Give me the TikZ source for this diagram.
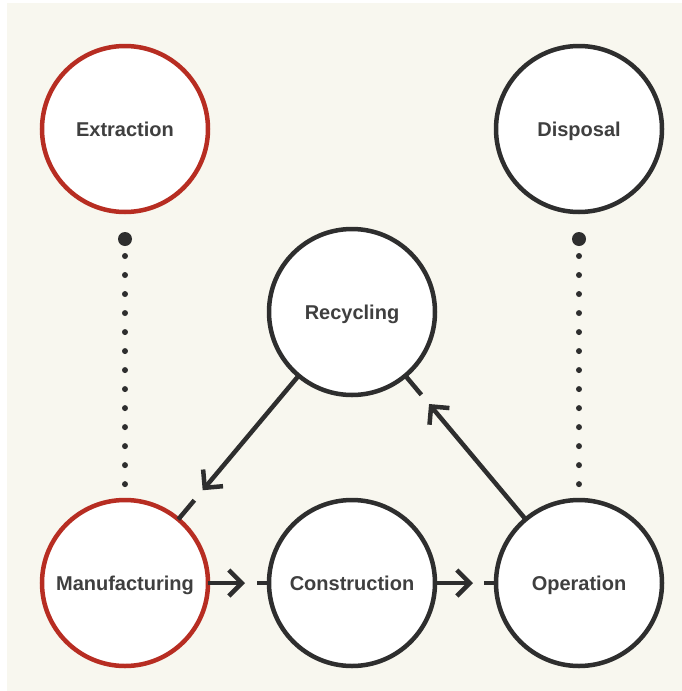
\documentclass[tikz,border=0pt]{standalone}
\usepackage{fontspec}
\setmainfont{Liberation Sans}
\usepackage{xcolor}
\usetikzlibrary{positioning,arrows.meta,calc}
\definecolor{cream}{HTML}{F8F7EF}
\definecolor{ink}{HTML}{2E2E2E}
\definecolor{rust}{HTML}{B72D22}

\begin{document}
\begin{tikzpicture}[x=1pt, y=1pt, font=\fontsize{20}{24}\selectfont\bfseries,
  stage/.style={circle, draw=ink, line width=4.5pt, fill=white, minimum size=166pt, inner sep=0pt, outer sep=0pt, text=ink!92, text height=14pt, text depth=0pt},
  start/.style={stage, draw=rust},
  bead/.style={circle, fill=ink, minimum size=14pt, inner sep=0pt, outer sep=0pt},
  dotline/.style={draw=ink, line width=6pt, line cap=round, dash pattern=on 0.01pt off 19pt, dash phase=9pt},
  arr/.style={-{Straight Barb[length=13pt, width=26pt]}, line width=4.5pt, draw=ink},
  stub/.style={line width=4.5pt, draw=ink}]
\fill[white] (0,0) rectangle (682,-691);
\fill[cream] (7,-3) rectangle (682,-691);
\useasboundingbox (0,0) rectangle (682,-691);
\node[start] (ext) at (125,-129) {Extraction};
\node[start, below=288pt of ext] (man) {Manufacturing};
\node[stage, right=61pt of man] (con) {Construction};
\node[stage, right=61pt of con] (op) {Operation};
\node[stage, above=288pt of op] (dis) {Disposal};
\node[stage, above=105pt of con] (rec) {Recycling};
\node[bead, below=20pt of ext] (extdot) {};
\node[bead, below=20pt of dis] (disdot) {};
\coordinate (mantip) at ($(con.west)+(-24,0)$);
\coordinate (contip) at ($(op.west)+(-23,0)$);
\coordinate (rectip) at ($(man.center)!121pt!(rec.center)$);
\coordinate (optip) at ($(rec.center)!120pt!(op.center)$);
\draw[dotline] (extdot) -- (man);
\draw[dotline] (disdot) -- (op);
\draw[arr] (man) -- (mantip);
\draw[stub] (con.west) -- ++(-12,0);
\draw[arr] (con) -- (contip);
\draw[stub] (op.west) -- ++(-12,0);
\draw[arr] (rec) -- (rectip);
\draw[stub] ($(man.center)!83pt!(rec.center)$) -- ($(man.center)!108pt!(rec.center)$);
\draw[arr] (op) -- (optip);
\draw[stub] ($(rec.center)!83pt!(op.center)$) -- ($(rec.center)!108pt!(op.center)$);
\end{tikzpicture}
\end{document}
